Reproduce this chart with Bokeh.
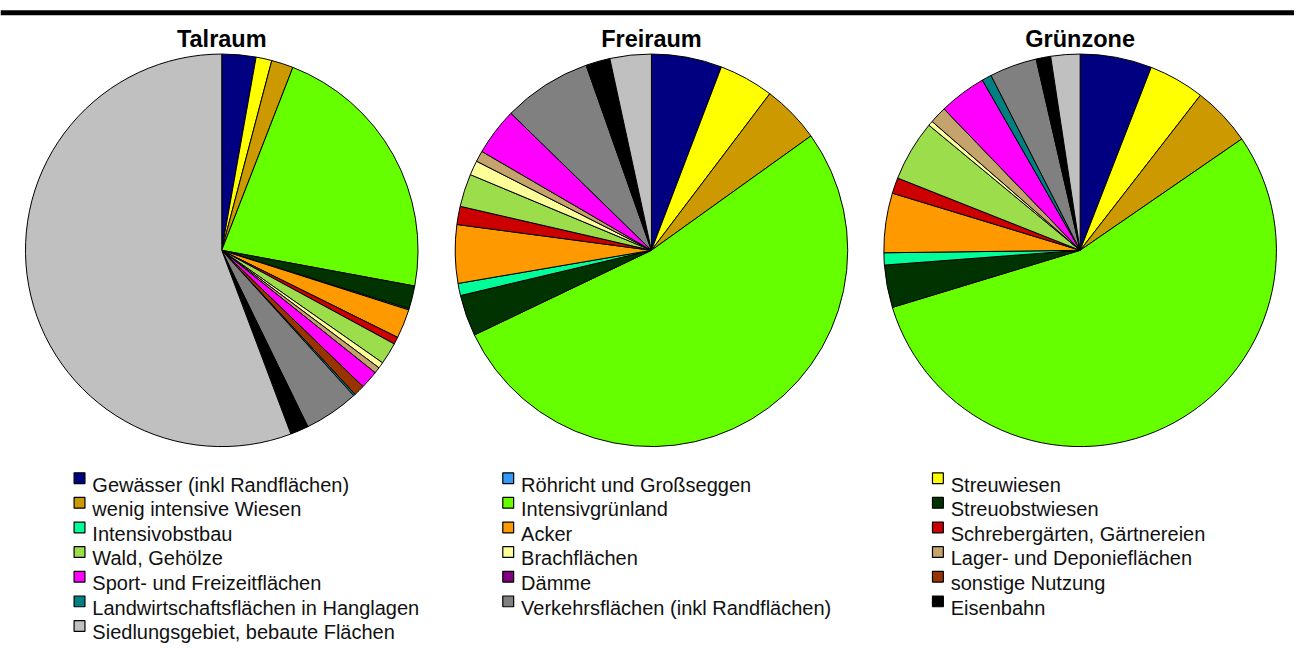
import math
from bokeh.plotting import figure
from bokeh.models import ColumnDataSource, Range1d, Span
from bokeh.core.properties import value
from bokeh.embed import file_html
from bokeh.resources import INLINE

# ---------------- data ----------------
categories = [
    "Gewässer (inkl Randflächen)", "Röhricht und Großseggen", "Streuwiesen",
    "wenig intensive Wiesen", "Intensivgrünland", "Streuobstwiesen",
    "Intensivobstbau", "Acker", "Schrebergärten, Gärtnereien",
    "Wald, Gehölze", "Brachflächen", "Lager- und Deponieflächen",
    "Sport- und Freizeitflächen", "Dämme", "sonstige Nutzung",
    "Landwirtschaftsflächen in Hanglagen", "Verkehrsflächen (inkl Randflächen)", "Eisenbahn",
    "Siedlungsgebiet, bebaute Flächen",
]
colors = [
    "#000080", "#3399FF", "#FFFF00",
    "#CC9900", "#66FF00", "#003300",
    "#00FF99", "#FF9900", "#CC0000",
    "#9CDD4C", "#FFFF99", "#C4A46C",
    "#FF00FF", "#800080", "#993300",
    "#008080", "#808080", "#000000",
    "#C0C0C0",
]
pie_titles = ["Talraum", "Freiraum", "Grünzone"]
talraum = [2.8, 0, 1.3, 1.8, 22.0, 1.9, 0.1, 2.4, 0.6, 1.8, 0.5, 0.5, 1.5, 0, 0.9, 0.15, 4.5, 1.5, 55.7]
freiraum = [5.8, 0, 4.5, 4.8, 52.8, 3.4, 1.0, 4.8, 1.5, 2.7, 1.2, 0.9, 3.9, 0, 0, 0, 7.3, 2.0, 3.4]
gruenzone = [5.9, 0, 4.6, 4.9, 54.9, 3.5, 1.0, 4.9, 1.3, 5.0, 0.4, 1.4, 3.9, 0, 0, 0.8, 3.9, 1.2, 2.4]
pie_values = [talraum, freiraum, gruenzone]

# ---------------- layout (reference-image coordinates) ----------------
W, H = 1294, 646
REF_W, REF_H = 1310, 662

def yy(y_ref):
    return REF_H - y_ref

p = figure(width=W, height=H, output_backend="svg", toolbar_location=None,
           x_range=Range1d(0, REF_W), y_range=Range1d(0, REF_H),
           x_axis_location=None, y_axis_location=None, min_border=0)
p.grid.visible = False
p.outline_line_color = None
p.background_fill_color = "white"

p.add_layout(Span(location=yy(12.5), dimension="width", line_color="black", line_width=5))

centers_x = [224, 659, 1093]
center_y = 256
radius = 198.7

for cx, title, vals in zip(centers_x, pie_titles, pie_values):
    total = sum(vals)
    cum = 0.0
    xs, ys, st, en, cols = [], [], [], [], []
    for v, c in zip(vals, colors):
        if v > 0:
            a0 = math.pi / 2 - 2 * math.pi * (cum + v) / total
            a1 = math.pi / 2 - 2 * math.pi * cum / total
            xs.append(cx); ys.append(yy(center_y)); st.append(a0); en.append(a1); cols.append(c)
        cum += v
    src = ColumnDataSource(dict(x=xs, y=ys, start=st, end=en, color=cols))
    p.wedge(x="x", y="y", radius=radius, start_angle="start", end_angle="end",
            direction="anticlock", fill_color="color", line_color="black", line_width=1,
            source=src)
    p.text(x=[cx], y=[yy(39)], text=[title], text_align="center", text_baseline="alphabetic",
           text_font=value("Liberation Sans"), text_font_style="bold",
           text_font_size="23.5px", text_color="black")

# ---------------- legend ----------------
sq_left = [74, 508, 943]
txt_left = [93, 527, 962]
row_h = 25.25
lx, ly, tx, ty = [], [], [], []
for i, name in enumerate(categories):
    r, c = divmod(i, 3)
    lx.append(sq_left[c] + 6)
    ly.append(yy(489.5 + r * row_h))
    tx.append(txt_left[c])
    ty.append(yy(496 + r * row_h))
leg = ColumnDataSource(dict(x=lx, y=ly, tx=tx, ty=ty, color=colors, name=categories))
p.rect(x="x", y="y", width=11, height=11, fill_color="color", line_color="black",
       line_width=1.2, source=leg)
p.text(x="tx", y="ty", text="name", text_align="left", text_baseline="alphabetic",
       text_font=value("Liberation Sans"), text_font_size="20px", text_color="#111111",
       source=leg)

open("out.html", "w").write(file_html(p, INLINE))
